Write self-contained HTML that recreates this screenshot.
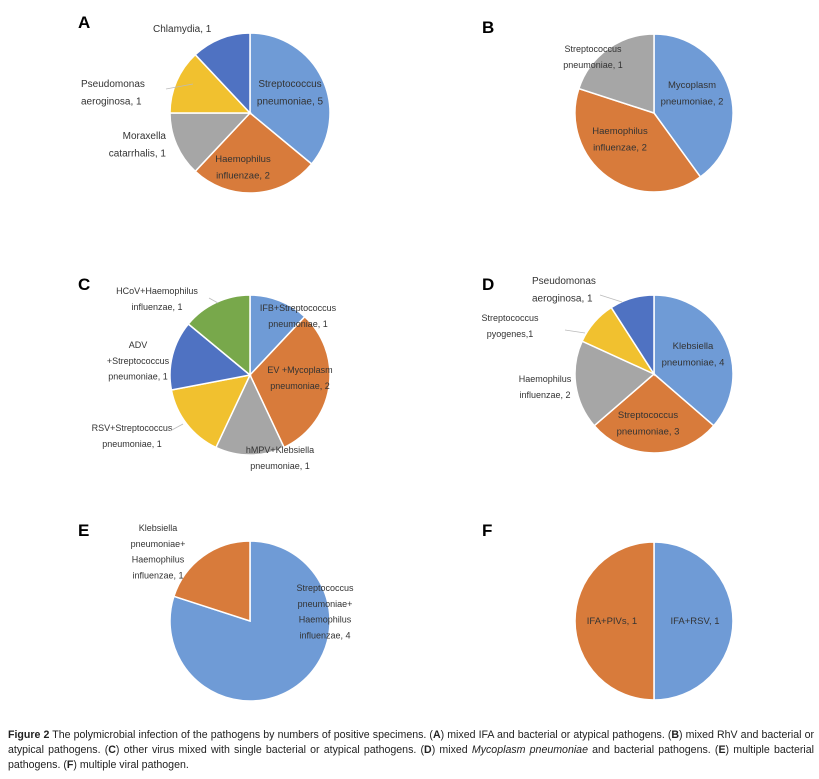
<!DOCTYPE html>
<html><head><meta charset="utf-8"><style>
body{margin:0;background:#fff;width:819px;height:779px;overflow:hidden;font-family:"Liberation Sans",sans-serif}
svg{position:absolute;left:0;top:0}
.cap{position:absolute;left:8px;top:728px;width:806px;font-size:10.6px;line-height:15px;color:#222;text-align:justify;letter-spacing:0px}
</style></head><body>
<svg id="s" width="819" height="720"></svg>
<div class="cap"><b>Figure 2</b> The polymicrobial infection of the pathogens by numbers of positive specimens. (<b>A</b>) mixed IFA and bacterial or atypical pathogens. (<b>B</b>) mixed RhV and bacterial or atypical pathogens. (<b>C</b>) other virus mixed with single bacterial or atypical pathogens. (<b>D</b>) mixed <i>Mycoplasm pneumoniae</i> and bacterial pathogens. (<b>E</b>) multiple bacterial pathogens. (<b>F</b>) multiple viral pathogen.</div>
<script>
const valuesA=[5,2,1,1,1];
const sharesA=[36,26,13,13,12];
const valuesB=[2,2,1];
const valuesC=[1,2,1,1,1,1];
const sharesC=[12,31,14,15,14,14];
const valuesD=[4,3,2,1,1];
const valuesE=[4,1];
const valuesF=[1,1];
const colors=["#6f9bd6","#d87b3b","#a6a6a6","#f1c12f","#4f72c2","#78a84b"];
const NS="http://www.w3.org/2000/svg";
const svg=document.getElementById('s');
function mk(t,a){const e=document.createElementNS(NS,t);for(const k in a)e.setAttribute(k,a[k]);svg.appendChild(e);return e;}
function txt(lines,x,y,size,anchor,name){lines.forEach((l,i)=>{const t=mk('text',{x:x,y:y+i*size*1.75,'font-size':size,'text-anchor':anchor||'middle',fill:'#333'});t.textContent=l;

});}
function pie(id,vals,cx,cy,r){const tot=vals.reduce((a,b)=>a+b,0);let a0=0;vals.forEach((v,i)=>{const a1=a0+v/tot*2*Math.PI;
const x0=cx+r*Math.sin(a0),y0=cy-r*Math.cos(a0),x1=cx+r*Math.sin(a1),y1=cy-r*Math.cos(a1);
const p=mk('path',{d:`M${cx},${cy}L${x0},${y0}A${r},${r} 0 ${a1-a0>Math.PI?1:0} 1 ${x1},${y1}Z`,fill:colors[i],stroke:'#fff','stroke-width':1.5});


a0=a1;});}
function letter(l,x,y){const t=mk('text',{x:x,y:y,'font-size':17,'font-weight':'bold',fill:'#000'});t.textContent=l;

}
// A
letter("A",78,28);pie('a',sharesA,250,113,80);
txt(["Streptococcus","pneumoniae, "+valuesA[0]],290,87,10,'middle','label-a-1');
txt(["Haemophilus","influenzae, "+valuesA[1]],243,162,9.5,'middle','label-a-2');
txt(["Moraxella","catarrhalis, "+valuesA[2]],166,139,10,'end','label-a-3');
txt(["Pseudomonas","aeroginosa, "+valuesA[3]],81,87,10,'start','label-a-4');
txt(["Chlamydia, "+valuesA[4]],153,32,10,'start','label-a-5');
// B
letter("B",482,33);pie('b',valuesB,654,113,79);
txt(["Mycoplasm","pneumoniae, "+valuesB[0]],692,88,9.5,'middle','label-b-1');
txt(["Haemophilus","influenzae, "+valuesB[1]],620,134,9.5,'middle','label-b-2');
txt(["Streptococcus","pneumoniae, "+valuesB[2]],593,52,9,'middle','label-b-3');
// C
letter("C",78,290);pie('c',sharesC,250,375,80);
txt(["IFB+Streptococcus","pneumoniae, "+valuesC[0]],298,311,9,'middle','label-c-1');
txt(["EV +Mycoplasm","pneumoniae, "+valuesC[1]],300,373,9,'middle','label-c-2');
txt(["hMPV+Klebsiella","pneumoniae, "+valuesC[2]],280,453,9,'middle','label-c-3');
txt(["RSV+Streptococcus","pneumoniae, "+valuesC[3]],132,431,9,'middle','label-c-4');
txt(["ADV","+Streptococcus","pneumoniae, "+valuesC[4]],138,348,9,'middle','label-c-5');
txt(["HCoV+Haemophilus","influenzae, "+valuesC[5]],157,294,9,'middle','label-c-6');
// D
letter("D",482,290);pie('d',valuesD,654,374,79);
txt(["Klebsiella","pneumoniae, "+valuesD[0]],693,349,9.5,'middle','label-d-1');
txt(["Streptococcus","pneumoniae, "+valuesD[1]],648,418,9.5,'middle','label-d-2');
txt(["Haemophilus","influenzae, "+valuesD[2]],545,382,9,'middle','label-d-3');
txt(["Streptococcus","pyogenes,"+valuesD[3]],510,321,9,'middle','label-d-4');
txt(["Pseudomonas","aeroginosa, "+valuesD[4]],532,284,10,'start','label-d-5');
// E
letter("E",78,536);pie('e',valuesE,250,621,80);
txt(["Streptococcus","pneumoniae+","Haemophilus","influenzae, "+valuesE[0]],325,591,9,'middle','label-e-1');
txt(["Klebsiella","pneumoniae+","Haemophilus","influenzae, "+valuesE[1]],158,531,9,'middle','label-e-2');
// F
letter("F",482,536);pie('f',valuesF,654,621,79);
txt(["IFA+RSV, "+valuesF[0]],695,624,9.5,'middle','label-f-1');
txt(["IFA+PIVs, "+valuesF[1]],612,624,9.5,'middle','label-f-2');
// leader lines
[[166,89,193,84],[209,298,218,303],[170,431,183,424],[565,330,585,333],[600,295,622,302]].forEach((c)=>{const l=mk('line',{x1:c[0],y1:c[1],x2:c[2],y2:c[3],stroke:'#bbb','stroke-width':0.8});

});
</script>
</body></html>
